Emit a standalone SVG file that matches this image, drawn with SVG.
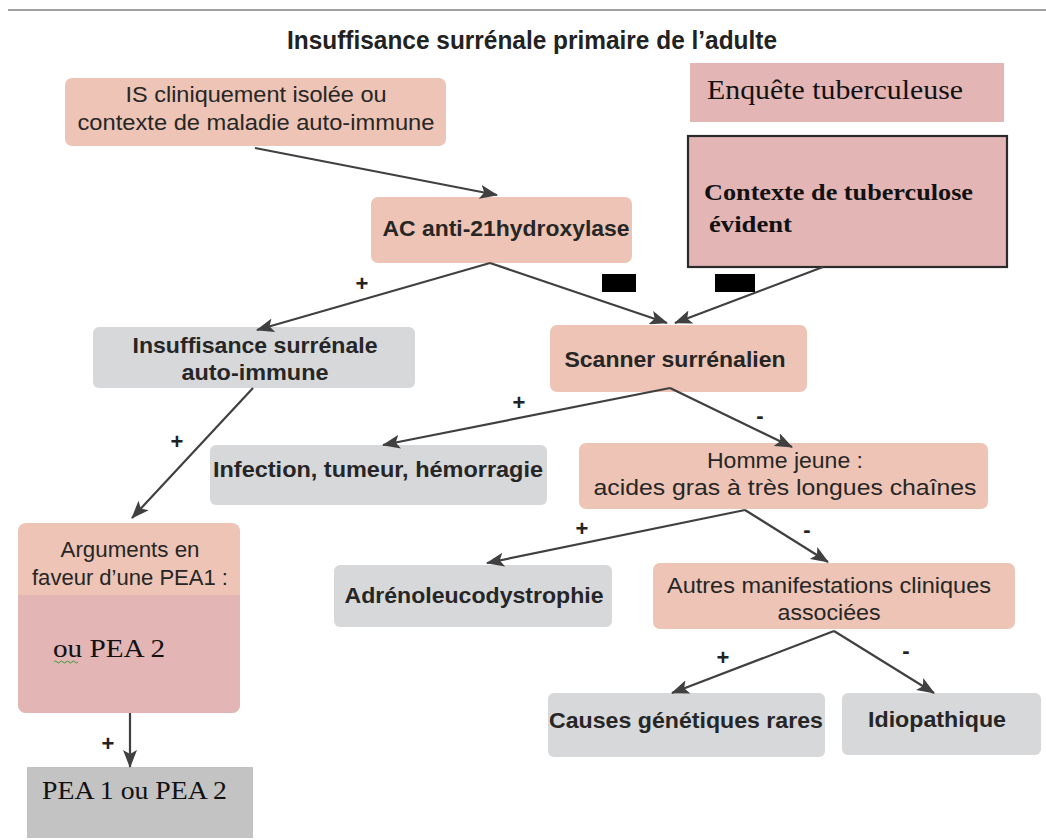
<svg xmlns="http://www.w3.org/2000/svg" width="1046" height="840" viewBox="0 0 1046 840">
<defs>
<marker id="ah" markerUnits="userSpaceOnUse" markerWidth="18" markerHeight="14" refX="17" refY="7" orient="auto">
<path d="M0,0 L18,7 L0,14 L4,7 z" fill="#404040"/>
</marker>
<style>
.salmon{fill:#edc4b5}
.gray{fill:#d7d8da}
.pink{fill:#e3b5b5}
.t{font-family:"Liberation Sans",Arial,sans-serif;font-size:22px;fill:#262626;text-anchor:middle}
.b{font-weight:bold}
.tm{font-family:"Liberation Serif","Times New Roman",serif;fill:#111}
.lbl{font-family:"Liberation Sans",Arial,sans-serif;font-size:22px;font-weight:bold;fill:#222;text-anchor:middle}
.c{stroke:#404040;stroke-width:2.2;fill:none;marker-end:url(#ah)}
</style>
</defs>
<rect width="1046" height="840" fill="#fff"/>
<line x1="8" y1="10" x2="1046" y2="10" stroke="#a0a0a0" stroke-width="2"/>
<text x="532" y="49" font-family="Liberation Sans,Arial,sans-serif" font-size="25" font-weight="bold" fill="#222" text-anchor="middle" textLength="490" lengthAdjust="spacingAndGlyphs">Insuffisance surrénale primaire de l’adulte</text>

<g id="n-is">
<rect class="salmon" x="65" y="78" width="381" height="68" rx="7"/>
<text class="t" x="256" y="102" textLength="261" lengthAdjust="spacingAndGlyphs">IS cliniquement isolée ou</text>
<text class="t" x="256" y="130" textLength="357" lengthAdjust="spacingAndGlyphs">contexte de maladie auto-immune</text>
</g>
<g id="n-enquete">
<rect class="pink" x="690" y="63" width="314" height="59"/>
<text class="tm" x="707" y="99" font-size="28" textLength="256" lengthAdjust="spacingAndGlyphs">Enquête tuberculeuse</text>
</g>
<g id="n-contexte">
<rect class="pink" x="688" y="136" width="319" height="131" stroke="#2a2a2a" stroke-width="2.2"/>
<text class="tm" x="704" y="200" font-size="24" font-weight="bold" textLength="269" lengthAdjust="spacingAndGlyphs">Contexte de tuberculose</text>
<text class="tm" x="709" y="232" font-size="24" font-weight="bold" textLength="83" lengthAdjust="spacingAndGlyphs">évident</text>
</g>
<g id="n-ac">
<rect class="salmon" x="371" y="197" width="261" height="66" rx="7"/>
<text class="t b" x="506" y="236" textLength="247" lengthAdjust="spacingAndGlyphs">AC anti-21hydroxylase</text>
</g>
<g id="n-isai">
<rect class="gray" x="93" y="327" width="322" height="61" rx="6"/>
<text class="t b" x="255" y="353" textLength="245" lengthAdjust="spacingAndGlyphs">Insuffisance surrénale</text>
<text class="t b" x="255" y="380" textLength="147" lengthAdjust="spacingAndGlyphs">auto-immune</text>
</g>
<g id="n-scanner">
<rect class="salmon" x="550" y="325" width="257" height="67" rx="7"/>
<text class="t b" x="675" y="367" textLength="221" lengthAdjust="spacingAndGlyphs">Scanner surrénalien</text>
</g>
<g id="n-infection">
<rect class="gray" x="210" y="445" width="337" height="60" rx="6"/>
<text class="t b" x="378" y="477" textLength="330" lengthAdjust="spacingAndGlyphs">Infection, tumeur, hémorragie</text>
</g>
<g id="n-homme">
<rect class="salmon" x="579" y="443" width="409" height="66" rx="7"/>
<text class="t" x="785" y="468" textLength="156" lengthAdjust="spacingAndGlyphs">Homme jeune :</text>
<text class="t" x="785" y="495" textLength="383" lengthAdjust="spacingAndGlyphs">acides gras à très longues chaînes</text>
</g>
<g id="n-arguments">
<rect class="salmon" x="18" y="523" width="222" height="190" rx="8"/>
<path class="pink" d="M18,595 H240 V705 a8,8 0 0 1 -8,8 H26 a8,8 0 0 1 -8,-8 z"/>
<text class="t" x="130" y="557" textLength="139" lengthAdjust="spacingAndGlyphs">Arguments en</text>
<text class="t" x="130" y="585" textLength="196" lengthAdjust="spacingAndGlyphs">faveur d’une PEA1 :</text>
<text class="tm" x="53" y="657" font-size="25" textLength="112" lengthAdjust="spacingAndGlyphs">ou  PEA 2</text>
<path d="M54,662 q1.5,-2 3,0 t3,0 t3,0 t3,0 t3,0 t3,0 t3,0 t3,0" stroke="#3a9a3a" stroke-width="1" fill="none"/>
</g>
<g id="n-pea">
<rect x="27" y="767" width="226" height="71" fill="#c3c3c3"/>
<text class="tm" x="42" y="799" font-size="25" textLength="185" lengthAdjust="spacingAndGlyphs">PEA 1 ou  PEA 2</text>
</g>
<g id="n-adreno">
<rect class="gray" x="334" y="565" width="278" height="62" rx="6"/>
<text class="t b" x="474" y="603" textLength="259" lengthAdjust="spacingAndGlyphs">Adrénoleucodystrophie</text>
</g>
<g id="n-autres">
<rect class="salmon" x="653" y="563" width="362" height="66" rx="7"/>
<text class="t" x="829" y="593" textLength="324" lengthAdjust="spacingAndGlyphs">Autres manifestations cliniques</text>
<text class="t" x="829" y="620" textLength="103" lengthAdjust="spacingAndGlyphs">associées</text>
</g>
<g id="n-causes">
<rect class="gray" x="548" y="693" width="277" height="64" rx="6"/>
<text class="t b" x="686" y="728" textLength="274" lengthAdjust="spacingAndGlyphs">Causes génétiques rares</text>
</g>
<g id="n-idio">
<rect class="gray" x="842" y="693" width="199" height="62" rx="6"/>
<text class="t b" x="937" y="727" textLength="138" lengthAdjust="spacingAndGlyphs">Idiopathique</text>
</g>

<g id="connectors">
<line class="c" x1="255" y1="148" x2="497" y2="195"/>
<line class="c" x1="490" y1="263" x2="257" y2="330"/>
<line class="c" x1="490" y1="263" x2="667" y2="323"/>
<line class="c" x1="823" y1="267" x2="675" y2="323"/>
<line class="c" x1="253" y1="388" x2="132" y2="518"/>
<line class="c" x1="670" y1="388" x2="383" y2="445"/>
<line class="c" x1="670" y1="388" x2="792" y2="447"/>
<line class="c" x1="745" y1="510" x2="487" y2="563"/>
<line class="c" x1="745" y1="510" x2="828" y2="562"/>
<line class="c" x1="834" y1="631" x2="672" y2="693"/>
<line class="c" x1="834" y1="631" x2="934" y2="693"/>
<line class="c" x1="130" y1="713" x2="130" y2="767"/>
<rect x="602" y="274" width="34" height="18" fill="#000"/>
<rect x="715" y="274" width="40" height="18" fill="#000"/>
<text class="lbl" x="362" y="291">+</text>
<text class="lbl" x="177" y="449">+</text>
<text class="lbl" x="519" y="410">+</text>
<text class="lbl" x="582" y="536">+</text>
<text class="lbl" x="723" y="665">+</text>
<text class="lbl" x="108" y="751">+</text>
<text class="lbl" x="760" y="423">-</text>
<text class="lbl" x="807" y="537">-</text>
<text class="lbl" x="906" y="658">-</text>
</g>
</svg>
